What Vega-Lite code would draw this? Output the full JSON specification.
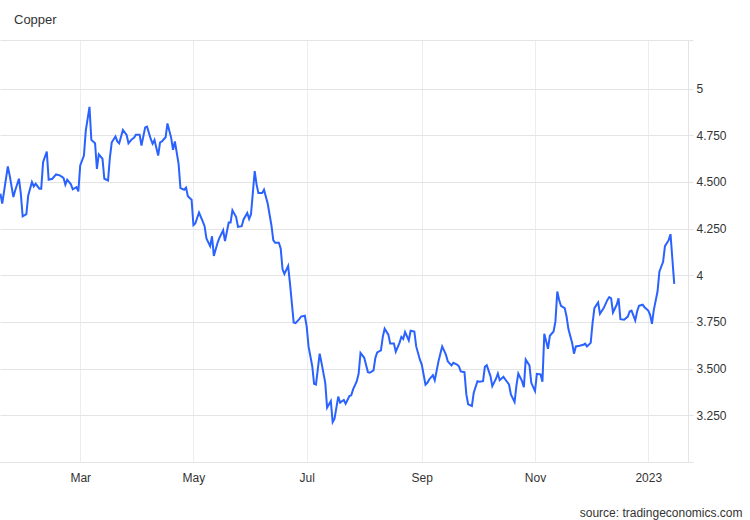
{
  "$schema": "https://vega.github.io/schema/vega-lite/v6.json",
  "width": 688,
  "height": 422,
  "autosize": {"type": "none"},
  "padding": {"left": 0, "top": 40, "right": 62, "bottom": 58},
  "background": "white",
  "config": {
    "view": {"stroke": null},
    "font": "Liberation Sans"
  },
  "title": {
    "text": "Copper",
    "anchor": "start",
    "frame": "group",
    "dx": 14,
    "offset": 3,
    "baseline": "alphabetic",
    "fontSize": 13,
    "fontWeight": "normal",
    "color": "#333333"
  },
  "data": {
    "values": [
      {"date": "2022-01-17", "price": 4.437},
      {"date": "2022-01-18", "price": 4.384},
      {"date": "2022-01-21", "price": 4.583},
      {"date": "2022-01-22", "price": 4.535},
      {"date": "2022-01-24", "price": 4.419},
      {"date": "2022-01-25", "price": 4.455},
      {"date": "2022-01-27", "price": 4.517},
      {"date": "2022-01-28", "price": 4.437},
      {"date": "2022-01-29", "price": 4.316},
      {"date": "2022-01-31", "price": 4.327},
      {"date": "2022-02-01", "price": 4.428},
      {"date": "2022-02-03", "price": 4.499},
      {"date": "2022-02-04", "price": 4.476},
      {"date": "2022-02-05", "price": 4.490},
      {"date": "2022-02-07", "price": 4.464},
      {"date": "2022-02-08", "price": 4.464},
      {"date": "2022-02-09", "price": 4.606},
      {"date": "2022-02-11", "price": 4.663},
      {"date": "2022-02-12", "price": 4.512},
      {"date": "2022-02-14", "price": 4.517},
      {"date": "2022-02-16", "price": 4.540},
      {"date": "2022-02-18", "price": 4.535},
      {"date": "2022-02-20", "price": 4.522},
      {"date": "2022-02-21", "price": 4.485},
      {"date": "2022-02-22", "price": 4.512},
      {"date": "2022-02-24", "price": 4.487},
      {"date": "2022-02-25", "price": 4.460},
      {"date": "2022-02-27", "price": 4.472},
      {"date": "2022-02-28", "price": 4.449},
      {"date": "2022-03-01", "price": 4.588},
      {"date": "2022-03-03", "price": 4.641},
      {"date": "2022-03-04", "price": 4.775},
      {"date": "2022-03-06", "price": 4.902},
      {"date": "2022-03-07", "price": 4.725},
      {"date": "2022-03-09", "price": 4.707},
      {"date": "2022-03-10", "price": 4.570},
      {"date": "2022-03-11", "price": 4.647},
      {"date": "2022-03-13", "price": 4.624},
      {"date": "2022-03-14", "price": 4.517},
      {"date": "2022-03-16", "price": 4.508},
      {"date": "2022-03-17", "price": 4.632},
      {"date": "2022-03-18", "price": 4.712},
      {"date": "2022-03-20", "price": 4.743},
      {"date": "2022-03-21", "price": 4.717},
      {"date": "2022-03-22", "price": 4.707},
      {"date": "2022-03-24", "price": 4.778},
      {"date": "2022-03-26", "price": 4.752},
      {"date": "2022-03-27", "price": 4.707},
      {"date": "2022-03-29", "price": 4.730},
      {"date": "2022-03-30", "price": 4.736},
      {"date": "2022-03-31", "price": 4.753},
      {"date": "2022-04-02", "price": 4.753},
      {"date": "2022-04-03", "price": 4.695},
      {"date": "2022-04-05", "price": 4.792},
      {"date": "2022-04-06", "price": 4.796},
      {"date": "2022-04-08", "price": 4.730},
      {"date": "2022-04-09", "price": 4.704},
      {"date": "2022-04-10", "price": 4.725},
      {"date": "2022-04-12", "price": 4.641},
      {"date": "2022-04-13", "price": 4.711},
      {"date": "2022-04-14", "price": 4.717},
      {"date": "2022-04-16", "price": 4.739},
      {"date": "2022-04-17", "price": 4.813},
      {"date": "2022-04-19", "price": 4.736},
      {"date": "2022-04-20", "price": 4.672},
      {"date": "2022-04-21", "price": 4.717},
      {"date": "2022-04-23", "price": 4.597},
      {"date": "2022-04-24", "price": 4.467},
      {"date": "2022-04-26", "price": 4.458},
      {"date": "2022-04-27", "price": 4.469},
      {"date": "2022-04-28", "price": 4.423},
      {"date": "2022-04-30", "price": 4.405},
      {"date": "2022-05-01", "price": 4.268},
      {"date": "2022-05-02", "price": 4.277},
      {"date": "2022-05-04", "price": 4.336},
      {"date": "2022-05-06", "price": 4.289},
      {"date": "2022-05-07", "price": 4.263},
      {"date": "2022-05-08", "price": 4.197},
      {"date": "2022-05-10", "price": 4.156},
      {"date": "2022-05-11", "price": 4.209},
      {"date": "2022-05-12", "price": 4.104},
      {"date": "2022-05-14", "price": 4.174},
      {"date": "2022-05-15", "price": 4.200},
      {"date": "2022-05-17", "price": 4.241},
      {"date": "2022-05-18", "price": 4.183},
      {"date": "2022-05-20", "price": 4.283},
      {"date": "2022-05-21", "price": 4.283},
      {"date": "2022-05-22", "price": 4.348},
      {"date": "2022-05-24", "price": 4.312},
      {"date": "2022-05-25", "price": 4.259},
      {"date": "2022-05-27", "price": 4.263},
      {"date": "2022-05-28", "price": 4.299},
      {"date": "2022-05-30", "price": 4.334},
      {"date": "2022-05-31", "price": 4.302},
      {"date": "2022-06-01", "price": 4.327},
      {"date": "2022-06-03", "price": 4.558},
      {"date": "2022-06-04", "price": 4.487},
      {"date": "2022-06-05", "price": 4.440},
      {"date": "2022-06-07", "price": 4.440},
      {"date": "2022-06-08", "price": 4.458},
      {"date": "2022-06-10", "price": 4.384},
      {"date": "2022-06-12", "price": 4.268},
      {"date": "2022-06-13", "price": 4.188},
      {"date": "2022-06-14", "price": 4.174},
      {"date": "2022-06-16", "price": 4.174},
      {"date": "2022-06-17", "price": 4.144},
      {"date": "2022-06-18", "price": 4.032},
      {"date": "2022-06-19", "price": 4.007},
      {"date": "2022-06-21", "price": 4.050},
      {"date": "2022-06-22", "price": 3.957},
      {"date": "2022-06-24", "price": 3.747},
      {"date": "2022-06-25", "price": 3.744},
      {"date": "2022-06-27", "price": 3.765},
      {"date": "2022-06-28", "price": 3.779},
      {"date": "2022-06-30", "price": 3.783},
      {"date": "2022-07-01", "price": 3.726},
      {"date": "2022-07-02", "price": 3.619},
      {"date": "2022-07-04", "price": 3.513},
      {"date": "2022-07-05", "price": 3.419},
      {"date": "2022-07-06", "price": 3.415},
      {"date": "2022-07-08", "price": 3.580},
      {"date": "2022-07-09", "price": 3.531},
      {"date": "2022-07-11", "price": 3.424},
      {"date": "2022-07-12", "price": 3.291},
      {"date": "2022-07-14", "price": 3.326},
      {"date": "2022-07-15", "price": 3.214},
      {"date": "2022-07-16", "price": 3.232},
      {"date": "2022-07-18", "price": 3.350},
      {"date": "2022-07-19", "price": 3.318},
      {"date": "2022-07-21", "price": 3.332},
      {"date": "2022-07-22", "price": 3.312},
      {"date": "2022-07-24", "price": 3.353},
      {"date": "2022-07-25", "price": 3.357},
      {"date": "2022-07-26", "price": 3.389},
      {"date": "2022-07-28", "price": 3.433},
      {"date": "2022-07-29", "price": 3.474},
      {"date": "2022-07-30", "price": 3.584},
      {"date": "2022-08-01", "price": 3.558},
      {"date": "2022-08-03", "price": 3.481},
      {"date": "2022-08-04", "price": 3.478},
      {"date": "2022-08-06", "price": 3.491},
      {"date": "2022-08-07", "price": 3.558},
      {"date": "2022-08-08", "price": 3.587},
      {"date": "2022-08-10", "price": 3.598},
      {"date": "2022-08-11", "price": 3.670},
      {"date": "2022-08-12", "price": 3.714},
      {"date": "2022-08-14", "price": 3.682},
      {"date": "2022-08-15", "price": 3.634},
      {"date": "2022-08-17", "price": 3.634},
      {"date": "2022-08-18", "price": 3.590},
      {"date": "2022-08-20", "price": 3.638},
      {"date": "2022-08-21", "price": 3.670},
      {"date": "2022-08-22", "price": 3.659},
      {"date": "2022-08-23", "price": 3.696},
      {"date": "2022-08-25", "price": 3.651},
      {"date": "2022-08-26", "price": 3.703},
      {"date": "2022-08-28", "price": 3.699},
      {"date": "2022-08-29", "price": 3.619},
      {"date": "2022-08-31", "price": 3.548},
      {"date": "2022-09-01", "price": 3.522},
      {"date": "2022-09-03", "price": 3.414},
      {"date": "2022-09-04", "price": 3.424},
      {"date": "2022-09-05", "price": 3.442},
      {"date": "2022-09-07", "price": 3.465},
      {"date": "2022-09-08", "price": 3.438},
      {"date": "2022-09-10", "price": 3.539},
      {"date": "2022-09-11", "price": 3.580},
      {"date": "2022-09-12", "price": 3.619},
      {"date": "2022-09-14", "price": 3.575},
      {"date": "2022-09-15", "price": 3.539},
      {"date": "2022-09-17", "price": 3.517},
      {"date": "2022-09-18", "price": 3.531},
      {"date": "2022-09-20", "price": 3.522},
      {"date": "2022-09-21", "price": 3.513},
      {"date": "2022-09-22", "price": 3.485},
      {"date": "2022-09-24", "price": 3.481},
      {"date": "2022-09-25", "price": 3.362},
      {"date": "2022-09-26", "price": 3.309},
      {"date": "2022-09-28", "price": 3.300},
      {"date": "2022-09-29", "price": 3.371},
      {"date": "2022-10-01", "price": 3.433},
      {"date": "2022-10-02", "price": 3.430},
      {"date": "2022-10-04", "price": 3.433},
      {"date": "2022-10-05", "price": 3.510},
      {"date": "2022-10-06", "price": 3.518},
      {"date": "2022-10-08", "price": 3.460},
      {"date": "2022-10-09", "price": 3.406},
      {"date": "2022-10-11", "price": 3.446},
      {"date": "2022-10-12", "price": 3.474},
      {"date": "2022-10-13", "price": 3.438},
      {"date": "2022-10-15", "price": 3.456},
      {"date": "2022-10-16", "price": 3.442},
      {"date": "2022-10-18", "price": 3.415},
      {"date": "2022-10-19", "price": 3.362},
      {"date": "2022-10-21", "price": 3.321},
      {"date": "2022-10-22", "price": 3.410},
      {"date": "2022-10-23", "price": 3.474},
      {"date": "2022-10-25", "price": 3.433},
      {"date": "2022-10-26", "price": 3.401},
      {"date": "2022-10-27", "price": 3.548},
      {"date": "2022-10-29", "price": 3.517},
      {"date": "2022-10-30", "price": 3.424},
      {"date": "2022-11-01", "price": 3.380},
      {"date": "2022-11-02", "price": 3.472},
      {"date": "2022-11-04", "price": 3.469},
      {"date": "2022-11-05", "price": 3.430},
      {"date": "2022-11-06", "price": 3.687},
      {"date": "2022-11-08", "price": 3.606},
      {"date": "2022-11-09", "price": 3.676},
      {"date": "2022-11-11", "price": 3.699},
      {"date": "2022-11-12", "price": 3.753},
      {"date": "2022-11-13", "price": 3.913},
      {"date": "2022-11-14", "price": 3.868},
      {"date": "2022-11-15", "price": 3.836},
      {"date": "2022-11-17", "price": 3.824},
      {"date": "2022-11-18", "price": 3.779},
      {"date": "2022-11-19", "price": 3.712},
      {"date": "2022-11-21", "price": 3.638},
      {"date": "2022-11-22", "price": 3.580},
      {"date": "2022-11-23", "price": 3.619},
      {"date": "2022-11-25", "price": 3.623},
      {"date": "2022-11-27", "price": 3.628},
      {"date": "2022-11-28", "price": 3.634},
      {"date": "2022-11-29", "price": 3.619},
      {"date": "2022-12-01", "price": 3.638},
      {"date": "2022-12-02", "price": 3.744},
      {"date": "2022-12-03", "price": 3.824},
      {"date": "2022-12-05", "price": 3.854},
      {"date": "2022-12-06", "price": 3.794},
      {"date": "2022-12-08", "price": 3.824},
      {"date": "2022-12-10", "price": 3.868},
      {"date": "2022-12-11", "price": 3.883},
      {"date": "2022-12-12", "price": 3.877},
      {"date": "2022-12-13", "price": 3.801},
      {"date": "2022-12-15", "price": 3.842},
      {"date": "2022-12-16", "price": 3.877},
      {"date": "2022-12-17", "price": 3.765},
      {"date": "2022-12-19", "price": 3.762},
      {"date": "2022-12-21", "price": 3.779},
      {"date": "2022-12-22", "price": 3.806},
      {"date": "2022-12-23", "price": 3.811},
      {"date": "2022-12-25", "price": 3.758},
      {"date": "2022-12-26", "price": 3.806},
      {"date": "2022-12-27", "price": 3.836},
      {"date": "2022-12-29", "price": 3.842},
      {"date": "2022-12-30", "price": 3.829},
      {"date": "2023-01-01", "price": 3.811},
      {"date": "2023-01-02", "price": 3.788},
      {"date": "2023-01-03", "price": 3.740},
      {"date": "2023-01-04", "price": 3.815},
      {"date": "2023-01-06", "price": 3.913},
      {"date": "2023-01-07", "price": 4.019},
      {"date": "2023-01-09", "price": 4.072},
      {"date": "2023-01-10", "price": 4.156},
      {"date": "2023-01-12", "price": 4.188},
      {"date": "2023-01-13", "price": 4.220},
      {"date": "2023-01-15", "price": 3.954}
    ]
  },
  "mark": {"type": "line", "color": "#2962ff", "strokeWidth": 2, "clip": true},
  "encoding": {
    "x": {
      "field": "date",
      "type": "temporal",
      "scale": {
        "type": "utc",
        "domain": [
          {"year": 2022, "month": 1, "date": 16, "hours": 19, "utc": true},
          {"year": 2023, "month": 1, "date": 22, "hours": 10, "utc": true}
        ],
        "nice": false
      },
      "axis": {
        "title": "source: tradingeconomics.com",
        "titleAnchor": "end",
        "titleAlign": "right",
        "titleX": 742,
        "titleY": 54,
        "titleBaseline": "alphabetic",
        "titleFontSize": 12,
        "titleFontWeight": "normal",
        "titleColor": "#333333",
        "values": [
          {"year": 2022, "month": 3, "date": 1, "utc": true},
          {"year": 2022, "month": 5, "date": 1, "utc": true},
          {"year": 2022, "month": 7, "date": 1, "utc": true},
          {"year": 2022, "month": 9, "date": 1, "utc": true},
          {"year": 2022, "month": 11, "date": 1, "utc": true},
          {"year": 2023, "month": 1, "date": 1, "utc": true}
        ],
        "labelExpr": "utcmonth(datum.value) == 0 ? utcFormat(datum.value, '%Y') : utcFormat(datum.value, '%b')",
        "labelFontSize": 12,
        "labelColor": "#333333",
        "labelPadding": 10,
        "ticks": false,
        "domain": true,
        "domainColor": "#e4e4e4",
        "grid": true,
        "gridColor": "#e9eef4",
        "gridWidth": 1
      }
    },
    "y": {
      "field": "price",
      "type": "quantitative",
      "scale": {"domain": [3.0, 5.26], "nice": false, "zero": false},
      "axis": {
        "orient": "right",
        "title": null,
        "values": [3, 3.25, 3.5, 3.75, 4, 4.25, 4.5, 4.75, 5, 5.26],
        "labelExpr": "datum.value < 3.1 || datum.value > 5.1 ? '' : (datum.value % 1 == 0 ? format(datum.value, 'd') : format(datum.value, '.3f'))",
        "labelFontSize": 12,
        "labelColor": "#333333",
        "labelPadding": 3,
        "tickSize": 5,
        "tickColor": "#e4e4e4",
        "domain": true,
        "domainColor": "#e4e4e4",
        "grid": true,
        "gridColor": "#e4e4e4",
        "gridWidth": 1
      }
    }
  }
}
